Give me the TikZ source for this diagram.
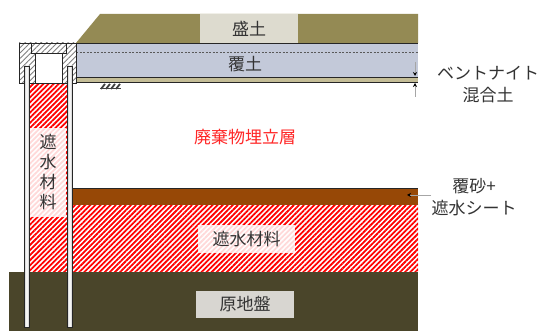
\documentclass[tikz,border=0pt]{standalone}
\usepackage{fontspec}
\usepackage{xcolor}
\usetikzlibrary{patterns.meta,arrows.meta}
\newfontfamily\jpfont{Noto Sans CJK JP}
\definecolor{moundolive}{HTML}{948A54}
\definecolor{coverblue}{HTML}{C3C9D9}
\definecolor{bentotan}{HTML}{C4BD97}
\definecolor{sandbrown}{HTML}{974806}
\definecolor{groundolive}{HTML}{4A452A}
\definecolor{boxbeige}{HTML}{DDDBCF}
\definecolor{boxgrey}{HTML}{D8D6D1}
\tikzset{
  lbl/.style={font=\jpfont\fontsize{17}{20}\selectfont, text=black!80, inner sep=0pt},
  redhatch/.style={preaction={fill=white}, pattern={Lines[angle=45,distance=3.6pt,line width=1.8pt]}, pattern color=red},
  greyhatch/.style={preaction={fill=white}, pattern={Lines[angle=45,distance=3.8pt,line width=0.9pt]}, pattern color=gray},
  layerline/.style={draw=black!85, line width=0.9pt},
  dimarrow/.style={draw=gray!70, line width=0.8pt, -{Stealth[black,length=4pt,width=4pt]}},
}

\begin{document}
\begin{tikzpicture}[x=1pt, y=1pt]
  \fill[white] (0,0) rectangle (544,331);
  \useasboundingbox (0,0) rectangle (544,331);

  % mound, cover soil and bentonite layer
  \fill[moundolive] (76,288) -- (100,317) -- (418,317) -- (418,288) -- cycle;
  \fill[coverblue] (76,254) rectangle (418,288);
  \draw[black!65, line width=0.8pt, dash pattern=on 2pt off 1.5pt] (76,279) -- (418,279);
  \fill[bentotan] (76,249) rectangle (418,254);
  \draw[layerline] (76,288) -- (418,288);
  \draw[layerline] (76,254) -- (418,254);
  \draw[layerline] (76,249) -- (418,249);

  % sealing material, sand + sheet, base ground
  \path[redhatch] (29,59) rectangle (67,248);
  \path[redhatch] (72,59) rectangle (418,126);
  \fill[sandbrown] (72,126) rectangle (418,143);
  \draw[layerline] (72,143) -- (418,143);
  \fill[groundolive] (9,0) rectangle (418,59);

  % well cap
  \draw[greyhatch, draw=black!85, line width=0.8pt] (19,248) rectangle (76,288);
  \fill[white] (35,248) rectangle (62,278);
  \draw[black!85, line width=0.8pt] (35,248) -- (35,278) -- (62,278) -- (62,248);
  \draw[greyhatch, draw=black!85, line width=0.8pt] (31,278) rectangle (66,288);

  % casing pipes
  \foreach \px in {24,67} {
    \shade[left color=gray!45, right color=gray!45, middle color=white] (\px,4) rectangle (\px+5,265);
    \draw[black!85, line width=0.8pt] (\px,4) rectangle (\px+5,265);
  }

  % small ground mark under the cover
  \draw[black!75, line width=1pt] (100,242) -- (121,242);
  \foreach \hx in {101,106,111,116}
    \draw[black!75, line width=1.8pt] (\hx,242) -- (\hx+4,247);

  % labels
  \node[lbl, fill=boxbeige, minimum width=98pt, minimum height=29pt] (moridoLbl) at (249,302.5) {盛土};
  \node[lbl] (fukudoLbl) at (245,267) {覆土};
  \node[lbl, text=red!85] (haikiLbl) at (245,194) {廃棄物埋立層};
  \node[lbl, fill=white, fill opacity=0.85, text opacity=1, minimum width=36pt, minimum height=89pt,
        align=center] (shasuiVLbl) at (48,158.5) {遮\\水\\材\\料};
  \node[lbl, fill=white, fill opacity=0.85, text opacity=1, minimum width=97pt, minimum height=28pt] (shasuiHLbl) at (246.5,92) {遮水材料};
  \node[lbl, fill=boxgrey, minimum width=98pt, minimum height=27pt] (genjibanLbl) at (245,26.5) {原地盤};
  \node[lbl, align=center, font=\jpfont\fontsize{17}{22}\selectfont] (bentoLbl) at (488,246) {ベントナイト\\混合土};
  \node[lbl, align=center, font=\jpfont\fontsize{17}{22}\selectfont] (sheetLbl) at (474,134) {覆砂+\\遮水シート};

  % thickness marks and leader
  \coordinate (bentoTopA) at (415,269);
  \coordinate (bentoTopB) at (415,255);
  \coordinate (bentoBotA) at (415,234);
  \coordinate (bentoBotB) at (415,248);
  \coordinate (sheetA) at (431,136);
  \coordinate (sheetB) at (407,136);
  \draw[dimarrow] (bentoTopA) -- (bentoTopB);
  \draw[dimarrow] (bentoBotA) -- (bentoBotB);
  \draw[dimarrow] (sheetA) -- (sheetB);
\end{tikzpicture}
\end{document}
